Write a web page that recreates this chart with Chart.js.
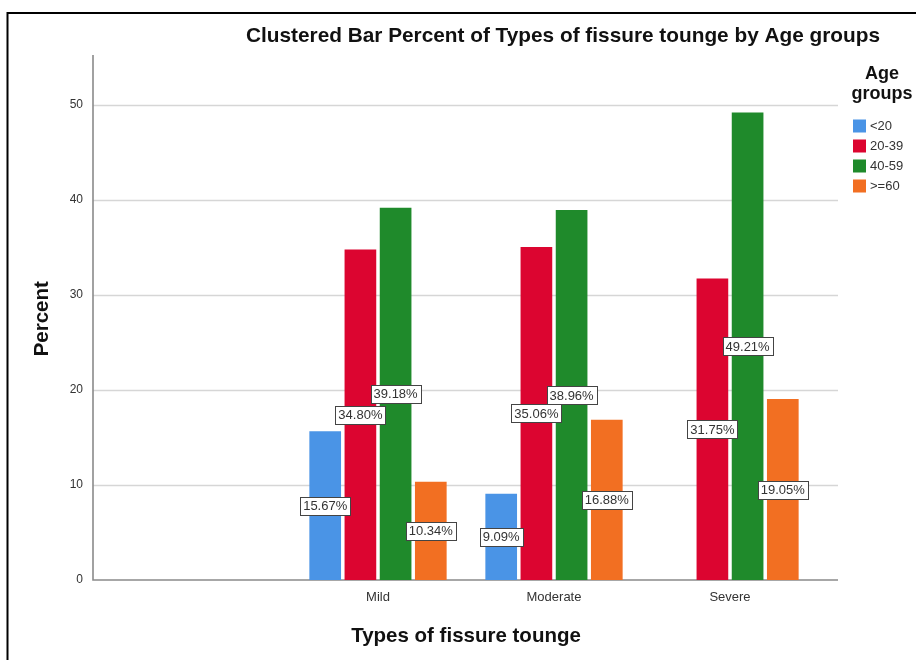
<!DOCTYPE html>
<html><head><meta charset="utf-8">
<script src="https://cdn.jsdelivr.net/npm/chart.js@4"></script>
<style>html,body{margin:0;padding:0;background:#fff;} #wrap{position:relative;width:916px;height:660px;} canvas{display:block;}</style>
</head><body><div id="wrap"><canvas id="c" width="916" height="660"></canvas></div>
<script>
const categories = ['', 'Mild', 'Moderate', 'Severe'];
const seriesNames = ['<20', '20-39', '40-59', '>=60'];
const under20 = [null, 15.67, 9.09, null];
const age20to39 = [null, 34.80, 35.06, 31.75];
const age40to59 = [null, 39.18, 38.96, 49.21];
const age60plus = [null, 10.34, 16.88, 19.05];
const yTicks = [0, 10, 20, 30, 40, 50];
const colors = ['#4a94e6', '#dc0530', '#1f8a2b', '#f26f22'];

const FONT = "'Liberation Sans', Arial, sans-serif";
const AX_LEFT = 93, AX_RIGHT = 838, AX_TOP = 55;

const decor = {
  id: 'decor',
  beforeDraw(chart) {
    const ctx = chart.ctx;
    ctx.save();
    ctx.fillStyle = '#fff';
    ctx.fillRect(0, 0, chart.width, chart.height);
    ctx.strokeStyle = '#000';
    ctx.lineWidth = 2;
    ctx.beginPath();
    ctx.moveTo(7.5, 660); ctx.lineTo(7.5, 13); ctx.lineTo(916, 13);
    ctx.stroke();
    ctx.fillStyle = '#111';
    ctx.font = 'bold 20.8px ' + FONT;
    ctx.textAlign = 'center';
    ctx.textBaseline = 'middle';
    ctx.fillText('Clustered Bar Percent of Types of fissure tounge by Age groups', 563, 36);
    ctx.restore();
  },
  beforeDatasetsDraw(chart) {
    const ctx = chart.ctx, y = chart.scales.y;
    ctx.save();
    ctx.strokeStyle = '#d6d6d6';
    ctx.lineWidth = 1.3;
    yTicks.forEach(v => {
      if (v === 0) return;
      const py = Math.round(y.getPixelForValue(v)) + 0.5;
      ctx.beginPath(); ctx.moveTo(AX_LEFT, py); ctx.lineTo(AX_RIGHT, py); ctx.stroke();
    });
    const p0 = y.getPixelForValue(0);
    ctx.strokeStyle = '#8a8a8a';
    ctx.lineWidth = 1.6;
    ctx.beginPath();
    ctx.moveTo(AX_LEFT, AX_TOP); ctx.lineTo(AX_LEFT, p0); ctx.lineTo(AX_RIGHT, p0);
    ctx.stroke();
    ctx.restore();
  },
  afterDatasetsDraw(chart) {
    const ctx = chart.ctx;
    ctx.save();
    ctx.font = '13px ' + FONT;
    ctx.textAlign = 'center';
    ctx.textBaseline = 'middle';
    chart.data.datasets.forEach((ds, i) => {
      const meta = chart.getDatasetMeta(i);
      meta.data.forEach((bar, j) => {
        const v = ds.data[j];
        if (v === null || v === undefined) return;
        const txt = v.toFixed(2) + '%';
        const cx = bar.x, cy = (bar.y + bar.base) / 2;
        const w = Math.round(ctx.measureText(txt).width + 6), h = 18;
        const bx = Math.round(cx - w / 2) + 0.5, by = Math.round(cy - h / 2) + 0.5;
        ctx.fillStyle = '#fff';
        ctx.fillRect(bx, by, w, h);
        ctx.strokeStyle = '#444';
        ctx.lineWidth = 1;
        ctx.strokeRect(bx, by, w, h);
        ctx.fillStyle = '#333';
        ctx.fillText(txt, cx, cy + 1);
      });
    });
    ctx.restore();
  },
  afterDraw(chart) {
    const ctx = chart.ctx;
    ctx.save();
    ctx.fillStyle = '#111';
    ctx.font = 'bold 18px ' + FONT;
    ctx.textAlign = 'center';
    ctx.textBaseline = 'middle';
    ctx.fillText('Age', 882, 74);
    ctx.fillText('groups', 882, 94);
    ctx.font = '13px ' + FONT;
    ctx.textAlign = 'left';
    chart.data.datasets.forEach((ds, i) => {
      const cy = 126 + i * 20;
      ctx.fillStyle = ds.backgroundColor;
      ctx.fillRect(853, cy - 6.5, 13, 13);
      ctx.fillStyle = '#333';
      ctx.fillText(ds.label, 870, cy);
    });
    ctx.restore();
  }
};

const seriesData = [under20, age20to39, age40to59, age60plus];

new Chart(document.getElementById('c'), {
  type: 'bar',
  data: {
    labels: categories,
    datasets: seriesNames.map((n, i) => ({
      label: n,
      data: seriesData[i],
      backgroundColor: colors[i],
      borderWidth: 0,
      categoryPercentage: 0.8,
      barPercentage: 0.9
    }))
  },
  options: {
    responsive: false,
    animation: false,
    devicePixelRatio: 1,
    layout: { padding: { top: 57.5, right: 98, bottom: 0, left: 0 } },
    plugins: { legend: { display: false }, title: { display: false }, tooltip: { enabled: false } },
    scales: {
      x: {
        type: 'category',
        offset: true,
        grid: { display: false, drawTicks: false },
        border: { display: false },
        ticks: { color: '#333', font: { family: FONT, size: 13 }, padding: 10 },
        afterFit: s => { s.height = 80; },
        title: { display: true, text: 'Types of fissure tounge', color: '#111',
          font: { family: FONT, size: 20.5, weight: 'bold' }, padding: { top: 0, bottom: 11 } }
      },
      y: {
        min: 0, max: 55,
        grid: { display: false, drawTicks: false },
        border: { display: false },
        afterBuildTicks: s => { s.ticks = yTicks.map(v => ({ value: v })); },
        ticks: { color: '#333', font: { family: FONT, size: 12 }, padding: 31 },
        afterFit: s => { s.width = 114; },
        title: { display: true, text: 'Percent', color: '#111',
          font: { family: FONT, size: 20.5, weight: 'bold' }, padding: { top: 29.7, bottom: 0 } }
      }
    }
  },
  plugins: [decor]
});
</script>
</body></html>
